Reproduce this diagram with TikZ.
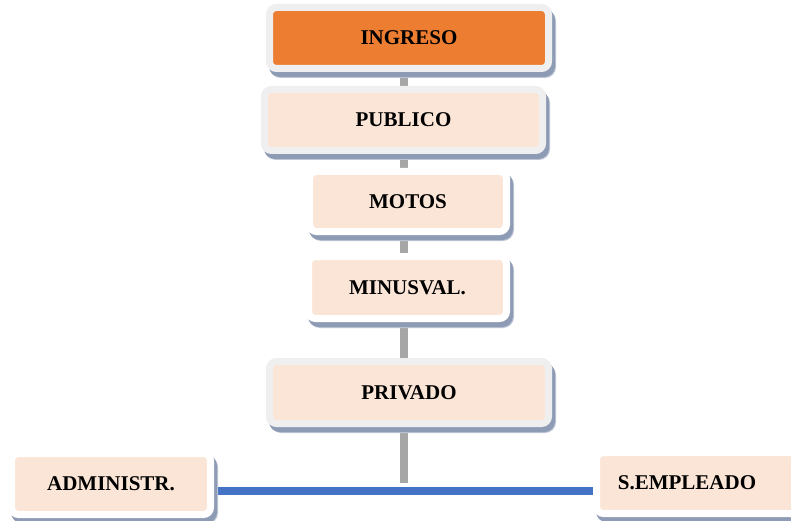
\documentclass[tikz,border=0pt]{standalone}
\usepackage{fontspec}
\setmainfont{Liberation Serif}
\usetikzlibrary{backgrounds}
\definecolor{pinkf}{RGB}{251,229,214}
\definecolor{orangef}{RGB}{237,125,49}
\definecolor{framegray}{RGB}{239,239,239}
\definecolor{shadowc}{RGB}{142,155,180}
\definecolor{shadowl}{RGB}{190,198,214}
\definecolor{linegray}{RGB}{166,166,166}
\definecolor{lineblue}{RGB}{68,114,196}
\newcommand\myshadow[1]{%
  \fill[shadowl, rounded corners=11] ([shift={(0.5,2.5)}]#1.north west) rectangle ([shift={(7.5,9.5)}]#1.south east);
  \fill[shadowc, rounded corners=10.5] ([shift={(-0.5,1.5)}]#1.north west) rectangle ([shift={(6.5,8.5)}]#1.south east);}
\begin{document}
\begin{tikzpicture}[x=1pt,y=-1pt,
  box/.style={rectangle, rounded corners=7, line width=7, outer sep=0, inner sep=0,
    font=\fontsize{21}{25}\selectfont\bfseries, text=black},
  graybox/.style={box, draw=framegray, fill=pinkf},
  whitebox/.style={box, draw=white, fill=pinkf},
  boxtext/.style={inner sep=0, font=\fontsize{21}{25}\selectfont\bfseries, text=black},
  grayline/.style={draw=linegray, line width=8},
  blueline/.style={draw=lineblue, line width=8}]
\useasboundingbox (0,0) rectangle (791,521);
\node[graybox, fill=orangef, minimum width=279, minimum height=61] (ingreso) at (409,38) {INGRESO};
\node[graybox, minimum width=278, minimum height=61] (publico) at (403.5,120) {PUBLICO};
\node[whitebox, minimum width=197, minimum height=60] (motos) at (408,201.5) {MOTOS};
\node[whitebox, minimum width=198, minimum height=62] (minus) at (407.5,287.5) {MINUSVAL.};
\node[graybox, minimum width=279, minimum height=62] (privado) at (409,392.5) {PRIVADO};
\node[whitebox, minimum width=199, minimum height=61] (admin) at (111,484) {ADMINISTR.};
\node[whitebox, minimum width=207, minimum height=61] (sempl) at (700,483) {};
\node[boxtext] (sempltext) at (687,483) {S.EMPLEADO};
\coordinate (gend) at (404,483);
\coordinate (bj) at (404,491);
\begin{scope}[on background layer]
  \fill[white] (0,0) rectangle (791,521);
  \draw[grayline] (ingreso.south -| gend) -- (gend);
  \draw[blueline] (admin.east |- bj) -- (sempl.west |- bj);
  \myshadow{ingreso}
  \myshadow{publico}
  \myshadow{motos}
  \myshadow{minus}
  \myshadow{privado}
  \myshadow{admin}
  \myshadow{sempl}
\end{scope}
\end{tikzpicture}
\end{document}
